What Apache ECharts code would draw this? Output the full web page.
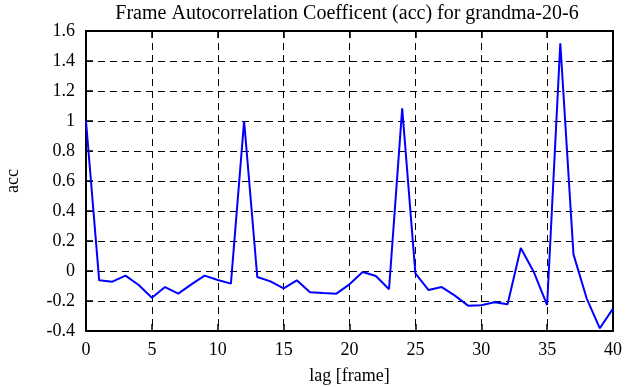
<!DOCTYPE html>
<html><head><meta charset="utf-8">
<script src="https://cdn.jsdelivr.net/npm/echarts@6/dist/echarts.min.js"></script>
<style>html,body{margin:0;padding:0;background:#fff}#c{width:635px;height:387px}</style>
</head><body><div id="c"></div>
<script>
var lags = [0,1,2,3,4,5,6,7,8,9,10,11,12,13,14,15,16,17,18,19,20,21,22,23,24,25,26,27,28,29,30,31,32,33,34,35,36,37,38,39,40];
var acc = [1.0,-0.062,-0.071,-0.031,-0.093,-0.178,-0.107,-0.151,-0.089,-0.031,-0.06,-0.084,1.0,-0.04,-0.069,-0.116,-0.062,-0.142,-0.147,-0.151,-0.089,-0.007,-0.033,-0.122,1.084,-0.016,-0.127,-0.107,-0.164,-0.231,-0.229,-0.209,-0.222,0.153,-0.009,-0.227,1.518,0.111,-0.182,-0.382,-0.251];
var titleText = 'Frame Autocorrelation Coefficent (acc) for grandma-20-6';
var xName = 'lag [frame]';
var yName = 'acc';

var font = 'Liberation Serif, Times New Roman, serif';
var chart = echarts.init(document.getElementById('c'), null, {renderer:'canvas'});
var data = lags.map(function(l,i){return [l, acc[i]];});
var axisLine = {show:true, onZero:false, lineStyle:{color:'#000', width:2}};
var tick = {show:true, inside:true, length:7, lineStyle:{color:'#000', width:1.5}};
var split = {show:true, lineStyle:{color:'#000', type:[7,5], width:1}};
chart.setOption({
  animation:false,
  title:{text:titleText, left:342, top:-1, textAlign:'center', textStyle:{fontFamily:font, fontSize:20, fontWeight:'normal', color:'#000'}},
  grid:{left:86, right:22, top:31, height:300, containLabel:false, outerBoundsMode:'none'},
  xAxis:[
    {type:'value', min:0, max:40, interval:5, position:'bottom', axisLine:axisLine, axisTick:tick, splitLine:split,
     axisLabel:{fontFamily:font, fontSize:18, color:'#000', margin:10},
     name:xName, nameLocation:'middle', nameGap:36, nameTextStyle:{fontFamily:font, fontSize:18, color:'#000'}},
    {type:'value', min:0, max:40, interval:5, position:'top', axisLine:axisLine, axisTick:tick, splitLine:{show:false}, axisLabel:{show:false}}
  ],
  yAxis:[
    {type:'value', min:-0.4, max:1.6, interval:0.2, position:'left', axisLine:axisLine, axisTick:tick, splitLine:split,
     axisLabel:{fontFamily:font, fontSize:18, color:'#000', margin:11, formatter:function(v){return String(Math.round(v*10)/10);}},
     name:yName, nameLocation:'middle', nameGap:64, nameRotate:90, nameTextStyle:{fontFamily:font, fontSize:18, color:'#000'}},
    {type:'value', min:-0.4, max:1.6, interval:0.2, position:'right', axisLine:axisLine, axisTick:tick, splitLine:{show:false}, axisLabel:{show:false}}
  ],
  series:[{type:'line', data:data, showSymbol:false, symbol:'none', lineStyle:{color:'#0000ff', width:2}, xAxisIndex:0, yAxisIndex:0}]
});
</script></body></html>
